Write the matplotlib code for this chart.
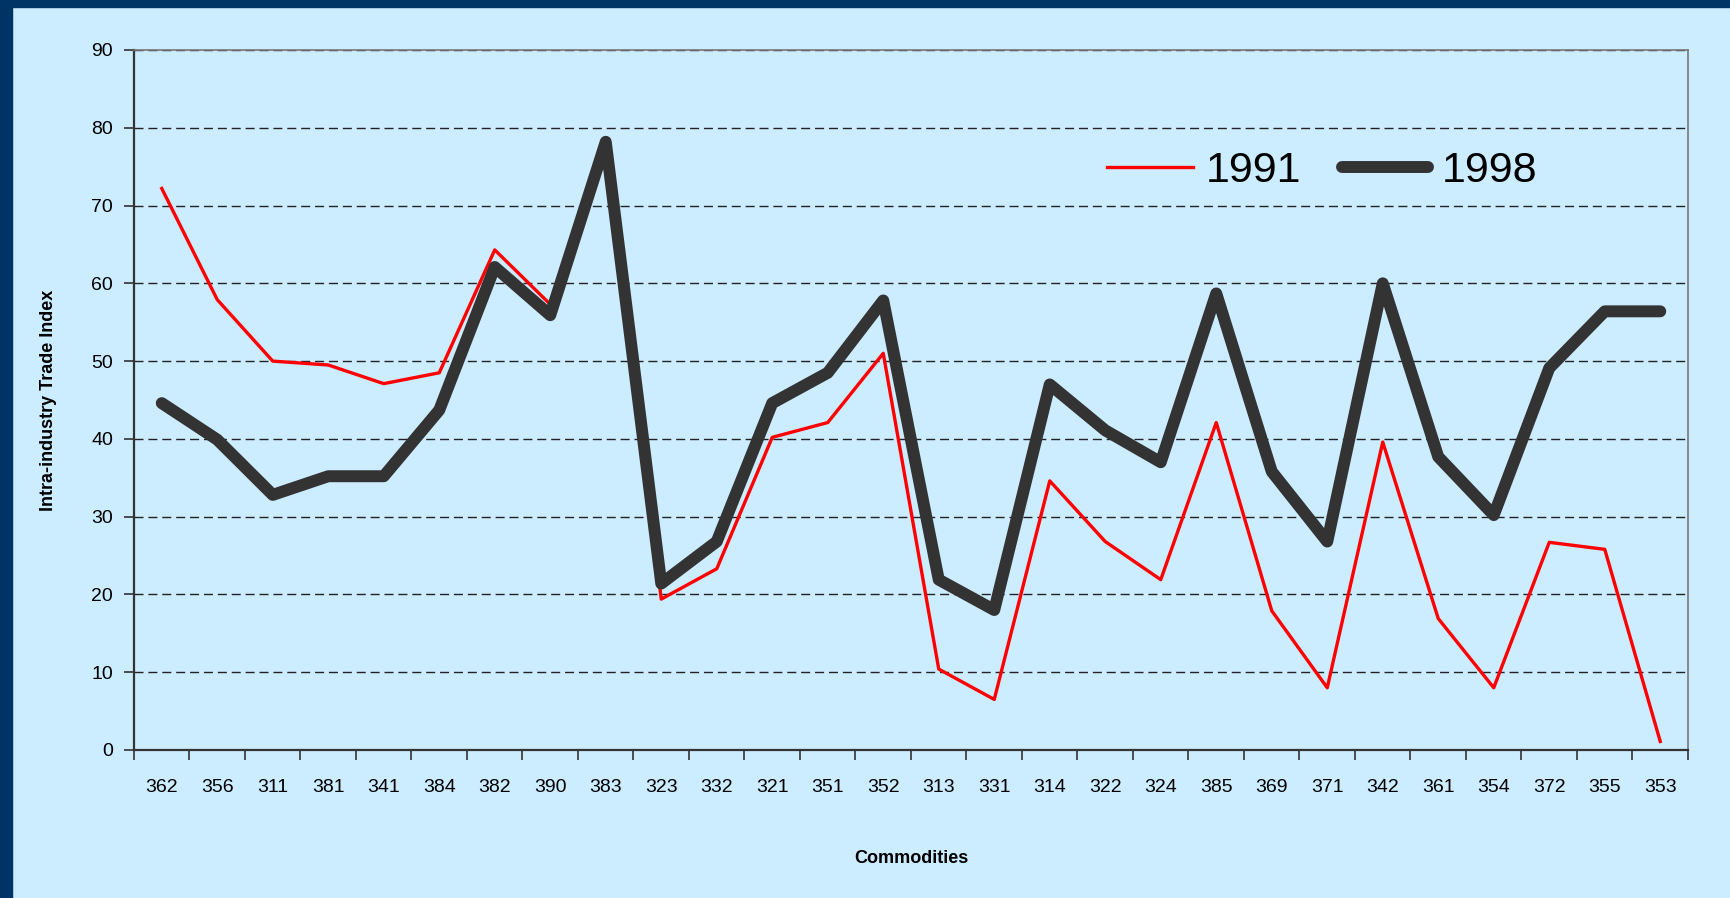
import numpy as np
import matplotlib
matplotlib.use('Agg')
import matplotlib.pyplot as plt
from matplotlib.patches import Rectangle

plt.rcParams['font.family'] = ['Liberation Sans', 'DejaVu Sans']

commodities = ['362', '356', '311', '381', '341', '384', '382', '390', '383', '323',
               '332', '321', '351', '352', '313', '331', '314', '322', '324', '385',
               '369', '371', '342', '361', '354', '372', '355', '353']
iit_1991 = [72.2, 57.9, 50.0, 49.5, 47.1, 48.5, 64.3, 57.3, 78.2, 19.4,
            23.3, 40.2, 42.1, 51.0, 10.4, 6.5, 34.6, 26.8, 21.9, 42.1,
            17.9, 8.0, 39.6, 16.9, 8.0, 26.7, 25.8, 1.1]
iit_1998 = [44.6, 39.9, 32.8, 35.2, 35.2, 43.7, 62.1, 55.9, 78.2, 21.4,
            26.8, 44.6, 48.5, 57.8, 21.9, 18.0, 47.0, 41.1, 37.0, 58.7,
            35.8, 26.8, 60.0, 37.7, 30.2, 49.1, 56.4, 56.4]
yticks = np.arange(0, 91, 10)

bg = '#CCECFF'
edge = '#003366'

fig = plt.figure(figsize=(17.31, 8.98), dpi=100, facecolor=bg)
fig.patches.append(Rectangle((0, 0), 12/1731, 1, transform=fig.transFigure,
                             color=edge, zorder=0))
fig.patches.append(Rectangle((0, 1 - 7/898), 1, 7/898, transform=fig.transFigure,
                             color=edge, zorder=0))

ax = fig.add_axes([134/1731, 148/898, 1554/1731, 700/898])
ax.set_facecolor(bg)

x = np.arange(len(commodities))
ax.plot(x, iit_1991, color='#FF0000', lw=2.4, label='1991', zorder=2)
ax.plot(x, iit_1998, color='#333333', lw=8.6, label='1998', zorder=3,
        solid_capstyle='round', solid_joinstyle='round')

ax.set_xlim(-0.5, len(commodities) - 0.5)
ax.set_ylim(0, 90)
ax.set_yticks(yticks)
ax.yaxis.grid(True, linestyle=(0, (6.5, 3.5)), color='#222222', lw=1.0)
ax.set_axisbelow(True)

ax.set_xticks(np.arange(-0.5, len(commodities), 1))
ax.set_xticklabels([])
ax.set_xticks(x, minor=True)
ax.set_xticklabels(commodities, minor=True)
ax.tick_params(axis='x', which='major', direction='out', length=7, width=1.2, color='#333333')
ax.tick_params(axis='x', which='minor', length=0, pad=21, labelsize=14)
ax.tick_params(axis='y', direction='out', length=7, width=1.2, color='#333333',
               pad=8, labelsize=14)

for s in ['left', 'bottom']:
    ax.spines[s].set_color('#333333')
    ax.spines[s].set_linewidth(1.6)
for s in ['top', 'right']:
    ax.spines[s].set_color('#777777')
    ax.spines[s].set_linewidth(1.2)

ax.set_xlabel('Commodities', fontsize=13, fontweight='bold')
ax.xaxis.set_label_coords(0.5, -0.143)
ax.set_ylabel('Intra-industry Trade Index', fontsize=13, fontweight='bold')
ax.yaxis.set_label_coords(-0.0496, 0.5)

ax.legend(loc='center left', bbox_to_anchor=(0.626, 0.827), ncol=2, frameon=False,
          fontsize=31, handlelength=2.0, handletextpad=0.3, columnspacing=0.95,
          borderpad=0, borderaxespad=0)

fig.savefig('out.png', dpi=100, facecolor=bg)
